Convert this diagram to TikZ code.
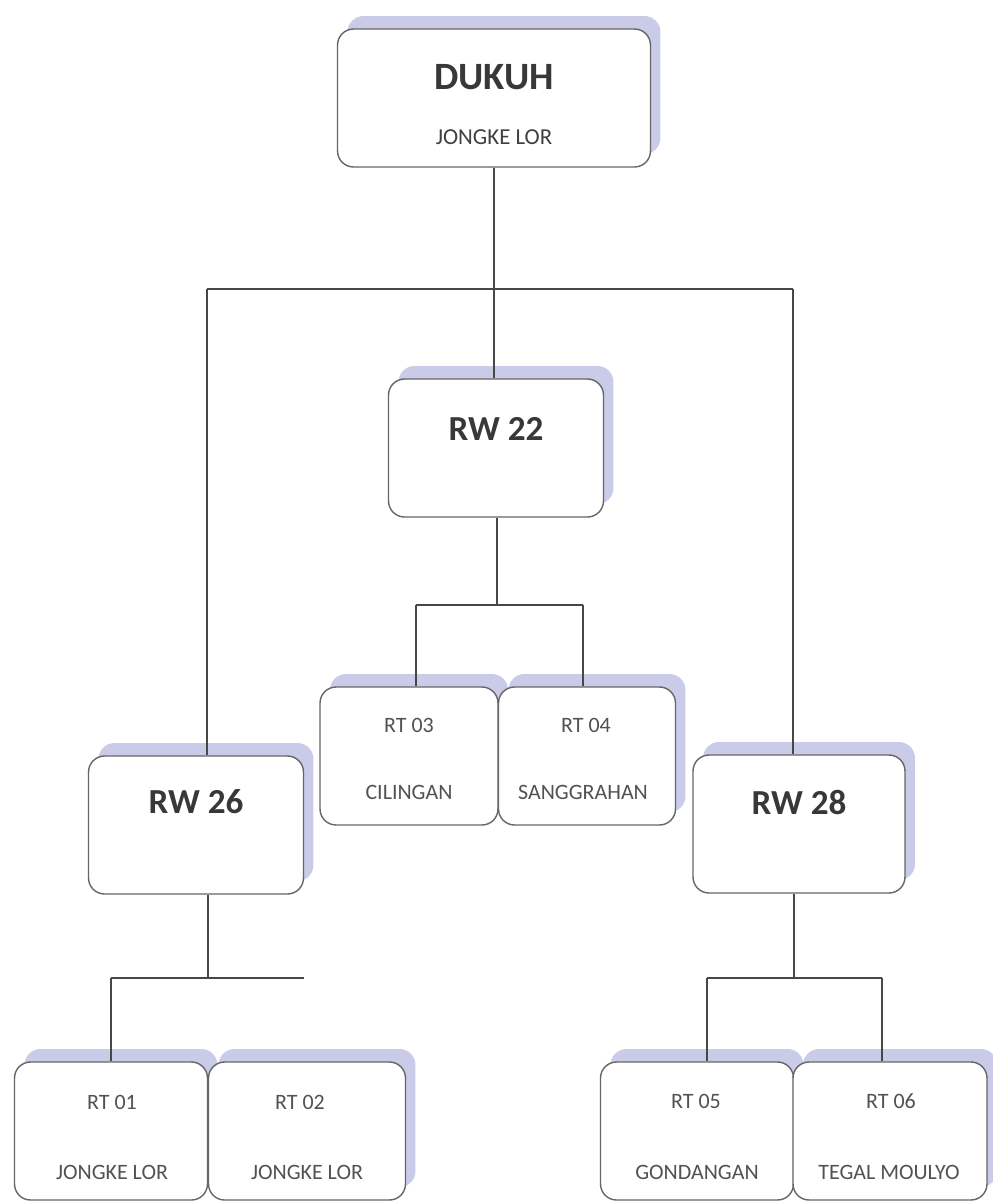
\documentclass[tikz,border=0pt]{standalone}
\usepackage{fontspec}
\setmainfont{Carlito}
\usetikzlibrary{shadows}

\definecolor{shade}{RGB}{201,203,232}

\begin{document}
\begin{tikzpicture}[x=0.02cm, y=-0.02cm,
            box/.style={draw=black!60, line width=0.8pt, fill=white,
                rounded corners=0.32cm, minimum height=2.76cm,
                drop shadow={shadow xshift=0.2cm, shadow yshift=0.26cm,
                    fill=shade, opacity=1}},
            bigtxt/.style={font=\fontsize{20}{24}\selectfont\bfseries, text=black!78},
            smalltxt/.style={font=\fontsize{12.5}{15}\selectfont, text=black!68},
            link/.style={draw=black!72, line width=0.8pt}]
        \path[use as bounding box, fill=white] (0,0) rectangle (992,1201);

        \node[box, minimum width=6.26cm] (dukuh) at (494,98) {};
        \node[box, minimum width=4.3cm] (rw22) at (496,448) {};
        \node[box, minimum width=4.3cm] (rw26) at (196,825) {};
        \node[box, minimum width=4.24cm] (rw28) at (799,824) {};
        \node[box, minimum width=3.56cm] (rt3) at (409,756) {};
        \node[box, minimum width=3.54cm] (rt4) at (587,756) {};
        \node[box, minimum width=3.86cm] (rt1) at (111,1131) {};
        \node[box, minimum width=3.94cm] (rt2) at (307,1131) {};
        \node[box, minimum width=3.86cm] (rt5) at (697,1131) {};
        \node[box, minimum width=3.88cm] (rt6) at (890,1131) {};

        \node[bigtxt, font=\fontsize{22}{26}\selectfont\bfseries] (dukuh-t) at (494,77) {DUKUH};
        \node[smalltxt, text=black!75, font=\fontsize{13}{15}\selectfont] (dukuh-s) at (494,137) {JONGKE LOR};
        \node[bigtxt] (rw22-t) at (496,429) {RW 22};
        \node[bigtxt] (rw26-t) at (196,802) {RW 26};
        \node[bigtxt] (rw28-t) at (799,802) {RW 28};
        \node[smalltxt] (rt3-t) at (409,725) {RT 03};
        \node[smalltxt] (rt3-s) at (409,792) {CILINGAN};
        \node[smalltxt] (rt4-t) at (586,725) {RT 04};
        \node[smalltxt] (rt4-s) at (583,792) {SANGGRAHAN};
        \node[smalltxt] (rt1-t) at (112,1102) {RT 01};
        \node[smalltxt] (rt1-s) at (112,1172) {JONGKE LOR};
        \node[smalltxt] (rt2-t) at (300,1102) {RT 02};
        \node[smalltxt] (rt2-s) at (307,1172) {JONGKE LOR};
        \node[smalltxt] (rt5-t) at (696,1101) {RT 05};
        \node[smalltxt] (rt5-s) at (697,1172) {GONDANGAN};
        \node[smalltxt] (rt6-t) at (891,1101) {RT 06};
        \node[smalltxt] (rt6-s) at (889,1172) {TEGAL MOULYO};

        \coordinate (b1l) at (207,289);
        \coordinate (b1r) at (793,289);
        \coordinate (b2m) at (497,605);
        \coordinate (b2l) at (416,605);
        \coordinate (b2r) at (583,605);
        \coordinate (b3m) at (208,978);
        \coordinate (b3l) at (111,978);
        \coordinate (b3r) at (304,978);
        \coordinate (b4m) at (794,978);
        \coordinate (b4l) at (707,978);
        \coordinate (b4r) at (882,978);

        \draw[link] (dukuh.south) -- (dukuh.south |- rw22.north);
        \draw[link] (b1l) -- (b1r);
        \draw[link] (b1l) -- (b1l |- rw26.north);
        \draw[link] (b1r) -- (b1r |- rw28.north);

        \draw[link] (b2m |- rw22.south) -- (b2m);
        \draw[link] (b2l) -- (b2r);
        \draw[link] (b2l) -- (b2l |- rt3.north);
        \draw[link] (b2r) -- (b2r |- rt4.north);

        \draw[link] (b3m |- rw26.south) -- (b3m);
        \draw[link] (b3l) -- (b3r);
        \draw[link] (b3l) -- (b3l |- rt1.north);

        \draw[link] (b4m |- rw28.south) -- (b4m);
        \draw[link] (b4l) -- (b4r);
        \draw[link] (b4l) -- (b4l |- rt5.north);
        \draw[link] (b4r) -- (b4r |- rt6.north);
    \end{tikzpicture}
\end{document}
